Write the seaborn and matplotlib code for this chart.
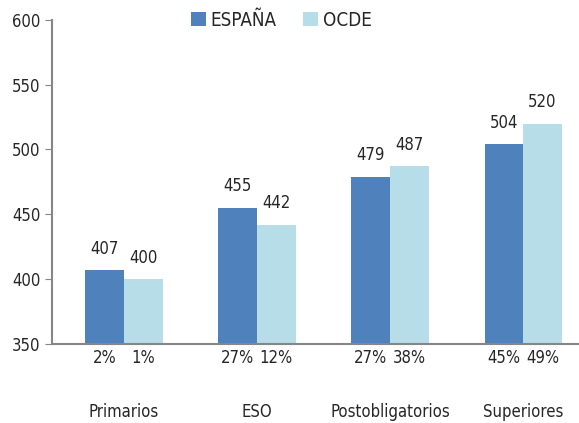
import pandas as pd
import seaborn as sns
import matplotlib.pyplot as plt
import matplotlib.transforms as mtransforms

niveles = ["Primarios", "ESO", "Postobligatorios", "Superiores"]
espana = [407, 455, 479, 504]
ocde = [400, 442, 487, 520]
pct_espana = ["2%", "27%", "27%", "45%"]
pct_ocde = ["1%", "12%", "38%", "49%"]
series = ["ESPAÑA", "OCDE"]
colores = ["#4F81BD", "#B7DDE8"]

df = pd.DataFrame({
    "nivel": niveles * 2,
    "serie": [series[0]] * 4 + [series[1]] * 4,
    "valor": espana + ocde,
})

sns.set_style("white")
plt.rcParams["font.family"] = ["Liberation Sans Narrow", "DejaVu Sans"]
plt.rcParams["font.stretch"] = "condensed"

fig = plt.figure(figsize=(5.79, 4.23), dpi=100)
ax = fig.add_axes([0.09, 0.187, 0.91, 0.766])

sns.barplot(data=df, x="nivel", y="valor", hue="serie", palette=colores,
            width=0.58, ax=ax, saturation=1, edgecolor="none")

ax.set_ylim(350, 600)
ax.set_yticks(range(350, 601, 50))
ax.set_xlim(-0.54, 3.42)
ax.set_xlabel("")
ax.set_ylabel("")
ax.set_xticks([])
ax.tick_params(axis="y", labelsize=12, length=5, color="#868686", direction="out", left=True)

for s in ["top", "right"]:
    ax.spines[s].set_visible(False)
for s in ["left", "bottom"]:
    ax.spines[s].set_color("#868686")
    ax.spines[s].set_linewidth(1.5)

for cont in ax.containers:
    ax.bar_label(cont, fmt="%d", padding=9, fontsize=12)

trans = mtransforms.blended_transform_factory(ax.transData, ax.transAxes)
for cont, pcts in zip(ax.containers, [pct_espana, pct_ocde]):
    for bar, p in zip(cont, pcts):
        ax.text(bar.get_x() + bar.get_width() / 2, -0.045, p, transform=trans,
                ha="center", va="center", fontsize=12)
for i, n in enumerate(niveles):
    ax.text(i, -0.21, n, transform=trans, ha="center", va="center", fontsize=12)

ax.legend(loc="upper center", bbox_to_anchor=(0.435, 1.08), ncol=2, frameon=False,
          fontsize=13.5, handlelength=0.8, handleheight=0.8, handletextpad=0.25,
          columnspacing=1.4)

fig.savefig("out.png", dpi=100)
